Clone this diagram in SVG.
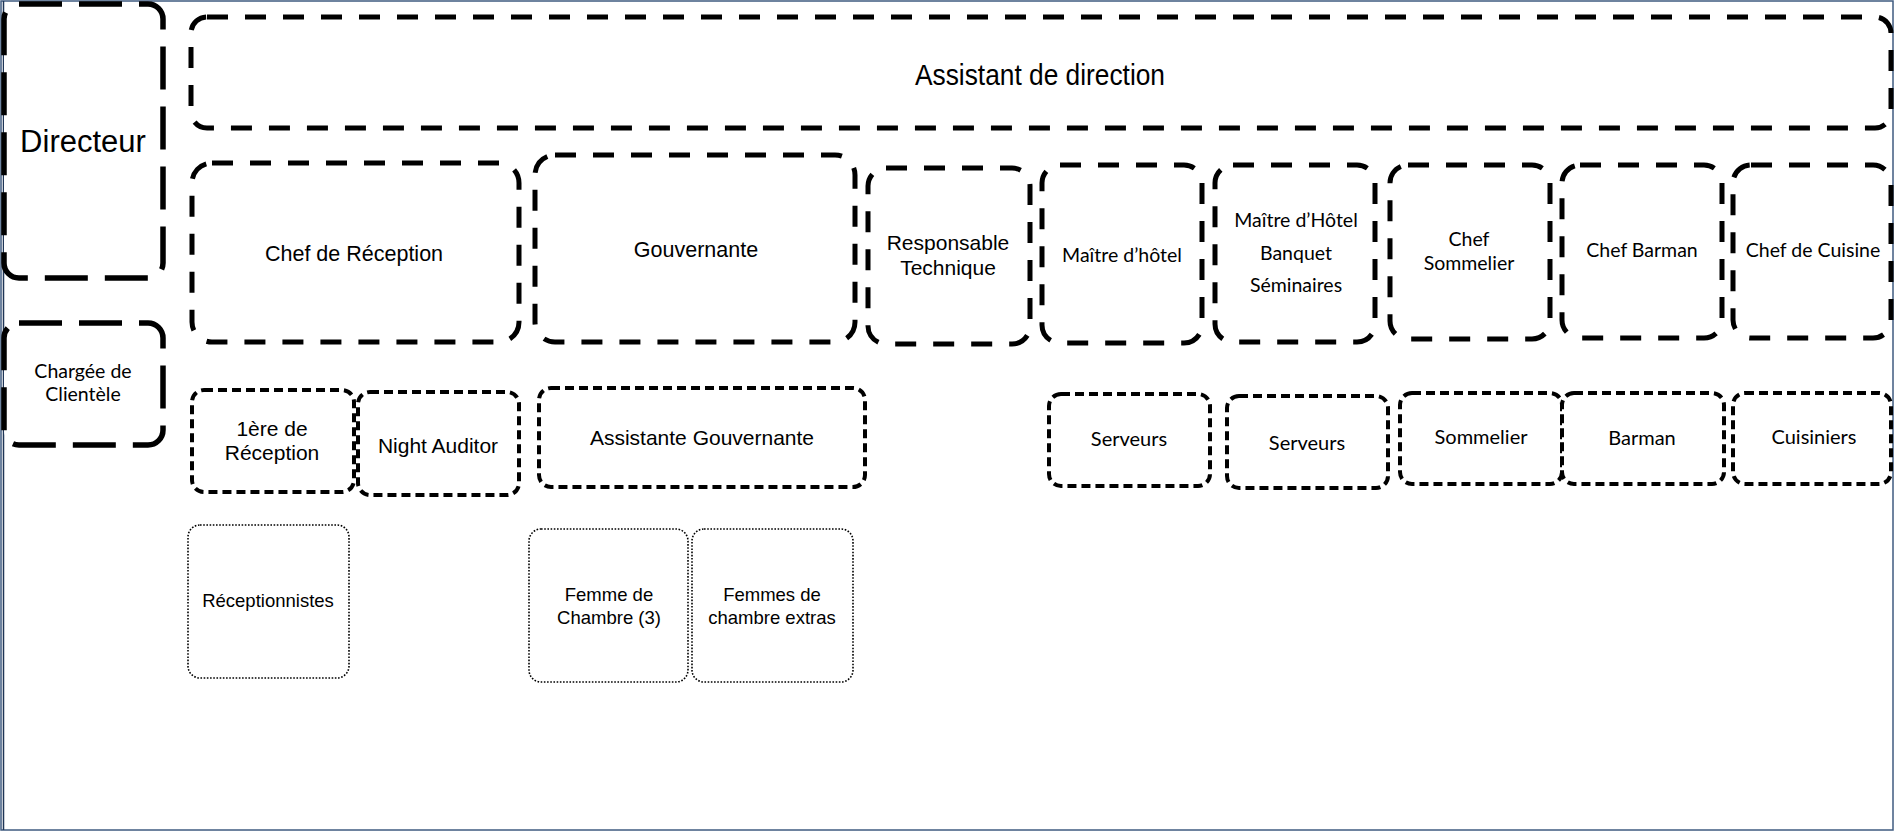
<svg xmlns="http://www.w3.org/2000/svg" width="1894" height="831" viewBox="0 0 1894 831">
<style>
.frame{fill:none;stroke:#3f5b80;stroke-width:1.5}
.box{fill:#fff;stroke:#000}
.big{stroke-width:5.5;stroke-dasharray:43 17}
.l2{stroke-width:5;stroke-dasharray:21 17}
.l3{stroke-width:4;stroke-dasharray:9 5}
.l4{stroke-width:1.6;stroke-dasharray:1.6 1.6}
.a{font-family:"Liberation Sans",Arial,sans-serif;fill:#000;text-anchor:middle}
.c{font-family:Lato,"Open Sans",sans-serif;fill:#000;text-anchor:middle}
</style>
<rect width="1894" height="831" fill="#fff"/>
<rect class="frame" x="1" y="1" width="1892" height="829"/>
<line x1="3.5" y1="1" x2="3.5" y2="830" stroke="#1f3556" stroke-width="1.5"/>
<g id="connectors"></g>
<g id="directeur"><rect class="box big" x="4" y="4" width="159" height="274" rx="15"/><text class="a" x="83" y="152" font-size="31">Directeur</text></g>
<g id="chargee"><rect class="box big" x="4" y="323" width="159" height="122" rx="15"/><text class="c" font-size="19.5"><tspan x="83" y="378">Chargée de</tspan><tspan x="83" y="401">Clientèle</tspan></text></g>
<g id="assistant-direction"><rect class="box l2" x="191" y="17" width="1700" height="111" rx="16"/><text class="a" x="1040" y="85" font-size="30" textLength="250" lengthAdjust="spacingAndGlyphs">Assistant de direction</text></g>
<g id="chef-reception"><rect class="box l2" x="192" y="163" width="327" height="179" rx="20"/><text class="a" x="354" y="261" font-size="21.5">Chef de Réception</text></g>
<g id="gouvernante"><rect class="box l2" x="535" y="155" width="320" height="187" rx="20"/><text class="a" x="696" y="257" font-size="21.5">Gouvernante</text></g>
<g id="resp-technique"><rect class="box l2" x="868" y="168" width="162" height="176" rx="18"/><text class="a" font-size="21"><tspan x="948" y="250">Responsable</tspan><tspan x="948" y="275">Technique</tspan></text></g>
<g id="maitre-hotel"><rect class="box l2" x="1042" y="165" width="160" height="178" rx="18"/><text class="c" x="1122" y="262" font-size="19.5">Maître d’hôtel</text></g>
<g id="maitre-banquet"><rect class="box l2" x="1215" y="165" width="160" height="177" rx="18"/><text class="c" font-size="19.5"><tspan x="1296" y="227">Maître d’Hôtel</tspan><tspan x="1296" y="260">Banquet</tspan><tspan x="1296" y="292">Séminaires</tspan></text></g>
<g id="chef-sommelier"><rect class="box l2" x="1390" y="165" width="160" height="174" rx="18"/><text class="c" font-size="19.5"><tspan x="1469" y="246">Chef</tspan><tspan x="1469" y="270">Sommelier</tspan></text></g>
<g id="chef-barman"><rect class="box l2" x="1562" y="165" width="160" height="173" rx="18"/><text class="c" x="1642" y="257" font-size="19.5">Chef Barman</text></g>
<g id="chef-cuisine"><rect class="box l2" x="1733" y="165" width="158" height="173" rx="18"/><text class="c" x="1813" y="257" font-size="19.5">Chef de Cuisine</text></g>
<g id="premiere-reception"><rect class="box l3" x="192" y="390" width="162" height="102" rx="12"/><text class="a" font-size="21"><tspan x="272" y="436">1ère de</tspan><tspan x="272" y="460">Réception</tspan></text></g>
<g id="night-auditor"><rect class="box l3" x="358" y="392" width="161" height="103" rx="12"/><text class="a" x="438" y="453" font-size="21">Night Auditor</text></g>
<g id="assistante-gouvernante"><rect class="box l3" x="539" y="388" width="326" height="99" rx="12"/><text class="a" x="702" y="445" font-size="21">Assistante Gouvernante</text></g>
<g id="serveurs-1"><rect class="box l3" x="1049" y="394" width="161" height="92" rx="12"/><text class="c" x="1129" y="446" font-size="20">Serveurs</text></g>
<g id="serveurs-2"><rect class="box l3" x="1227" y="396" width="161" height="92" rx="12"/><text class="c" x="1307" y="450" font-size="20">Serveurs</text></g>
<g id="sommelier"><rect class="box l3" x="1400" y="393" width="162" height="91" rx="12"/><text class="c" x="1481" y="444" font-size="20">Sommelier</text></g>
<g id="barman"><rect class="box l3" x="1562" y="393" width="162" height="91" rx="12"/><text class="c" x="1642" y="445" font-size="20">Barman</text></g>
<g id="cuisiniers"><rect class="box l3" x="1733" y="393" width="158" height="91" rx="12"/><text class="c" x="1814" y="444" font-size="20">Cuisiniers</text></g>
<g id="receptionnistes"><rect class="box l4" x="188" y="525" width="161" height="153" rx="12"/><text class="a" x="268" y="607" font-size="18.5">Réceptionnistes</text></g>
<g id="femme-chambre"><rect class="box l4" x="529" y="529" width="159" height="153" rx="12"/><text class="a" font-size="18.5"><tspan x="609" y="601">Femme de</tspan><tspan x="609" y="624">Chambre (3)</tspan></text></g>
<g id="femmes-extras"><rect class="box l4" x="692" y="529" width="161" height="153" rx="12"/><text class="a" font-size="18.5"><tspan x="772" y="601">Femmes de</tspan><tspan x="772" y="624">chambre extras</tspan></text></g>
</svg>
